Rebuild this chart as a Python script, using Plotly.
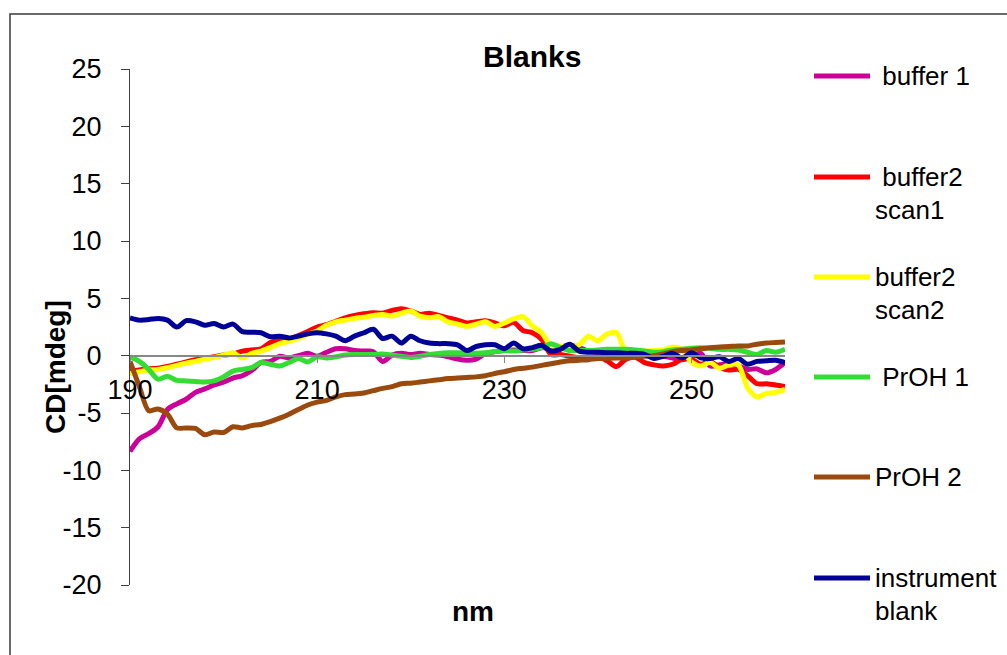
import plotly.graph_objects as go

# Wavelength grid (nm), 1 nm steps
wavelength = list(range(190, 261))

buffer_1 = [
    -8.35, -7.25, -6.8, -6.2, -4.7, -4.2, -3.8, -3.2, -2.9, -2.55,
    -2.3, -1.95, -1.75, -1.3, -0.6, -0.5, -0.05, -0.2, 0.0, 0.2,
    -0.05, 0.3, 0.6, 0.6, 0.45, 0.4, 0.35, -0.5, 0.05, 0.2,
    0.1, 0.2, 0.1, 0.05, -0.1, -0.3, -0.4, -0.3, 0.2, 0.35,
    0.45, 0.5, 0.45, 0.45, 0.7, 0.6, 0.75, 0.9, 0.7, 0.4,
    0.35, 0.4, 0.3, 0.15, 0.1, 0.15, 0.1, -0.05, -0.2, -0.35,
    -0.1, 0.2, -0.9, -0.8, -0.7, -0.9, -1.2, -1.15, -1.5, -1.2,
    -0.6,
]

buffer2_scan1 = [
    -1.4, -1.25, -1.15, -1.1, -0.95, -0.75, -0.55, -0.35, -0.25, -0.1,
    0.05, 0.15, 0.4, 0.5, 0.6, 1.15, 1.4, 1.45, 1.75, 2.1,
    2.5, 2.7, 3.0, 3.3, 3.5, 3.65, 3.75, 3.7, 3.95, 4.1,
    3.9, 3.6, 3.7, 3.5, 3.3, 3.1, 2.85, 2.95, 3.05, 2.85,
    2.6, 2.9, 2.2, 2.0, 1.4, 0.1, 0.1, -0.05, -0.2, -0.2,
    -0.1, -0.45, -0.95, -0.3, -0.15, -0.6, -0.8, -0.9, -0.75, -0.3,
    -0.3, -0.75, -0.5, -1.0, -1.25, -1.2, -1.75, -2.45, -2.45, -2.55,
    -2.7,
]

buffer2_scan2 = [
    -1.55, -1.4, -1.25, -1.2, -1.05, -0.85, -0.65, -0.5, -0.3, -0.15,
    0.05, 0.25, -0.2, 0.2, 0.4, 0.7, 1.05, 1.25, 1.5, 1.85,
    2.15, 2.65, 2.95, 3.1, 3.25, 3.35, 3.5, 3.6, 3.45, 3.7,
    3.9, 3.45, 3.3, 3.4, 2.95, 2.75, 2.55, 2.75, 2.95, 2.55,
    2.85, 3.2, 3.4, 2.6, 2.0, 0.85, 0.85, 0.75, 0.95, 1.7,
    1.3, 1.9, 2.0, 0.3, 0.35, 0.4, 0.45, 0.5, 0.75, 0.5,
    -0.55, -0.9, -0.6, -1.1, -0.8, -0.8, -2.8, -3.6, -3.3, -3.2,
    -2.95,
]

proh_1 = [
    -0.1, -0.5, -1.2, -2.05, -1.8, -2.15, -2.2, -2.25, -2.3, -2.2,
    -1.85, -1.35, -1.2, -1.05, -0.6, -0.75, -0.9, -0.6, -0.25, -0.55,
    -0.1, -0.2, -0.1, 0.05, 0.1, 0.1, 0.1, 0.15, 0.05, -0.05,
    -0.15, -0.05, 0.1, 0.2, 0.25, 0.25, 0.2, 0.2, 0.25, 0.35,
    0.45, 0.4, 0.5, 0.55, 0.7, 1.05, 0.7, 0.45, 0.45, 0.45,
    0.5, 0.55, 0.55, 0.55, 0.5, 0.4, 0.3, 0.35, 0.5, 0.55,
    0.65, 0.7, 0.65, 0.55, 0.55, 0.5, 0.3, 0.1, 0.45, 0.3,
    0.55,
]

proh_2 = [
    -0.5, -2.7, -4.8, -4.65, -5.1, -6.3, -6.3, -6.35, -6.9, -6.65,
    -6.7, -6.2, -6.3, -6.1, -6.0, -5.75, -5.45, -5.1, -4.7, -4.3,
    -4.05, -3.9, -3.6, -3.4, -3.35, -3.25, -3.05, -2.85, -2.7, -2.45,
    -2.4, -2.3, -2.2, -2.1, -2.0, -1.95, -1.9, -1.85, -1.75, -1.55,
    -1.4, -1.2, -1.1, -1.0, -0.85, -0.7, -0.55, -0.45, -0.4, -0.35,
    -0.25, -0.22, -0.2, -0.2, -0.1, -0.05, 0.0, 0.15, 0.35, 0.45,
    0.5, 0.6, 0.7, 0.75, 0.8, 0.85, 0.85, 1.0, 1.1, 1.15,
    1.2,
]

instrument_blank = [
    3.3, 3.1, 3.15, 3.25, 3.1, 2.5, 3.05, 2.95, 2.65, 2.8,
    2.5, 2.75, 2.1, 2.05, 2.0, 1.65, 1.7, 1.55, 1.7, 1.9,
    2.0, 1.9, 1.7, 1.3, 1.7, 2.0, 2.3, 1.5, 1.7, 1.1,
    1.7, 1.3, 1.1, 1.05, 1.05, 0.95, 0.45, 0.8, 0.95, 0.95,
    0.6, 1.1, 0.6, 0.7, 0.9, 0.4, 0.55, 1.0, 0.4, 0.3,
    0.3, 0.25, 0.25, 0.2, 0.2, 0.1, -0.25, -0.05, 0.2, -0.2,
    0.25, -0.2, -0.25, -0.1, -0.5, -0.25, -0.75, -0.5, -0.45, -0.4,
    -0.6,
]

series = [
    (["\u00a0buffer 1"], buffer_1, "#CC0099"),
    (["\u00a0buffer2", "scan1"], buffer2_scan1, "#FF0000"),
    (["buffer2", "scan2"], buffer2_scan2, "#FFFF00"),
    (["\u00a0PrOH 1"], proh_1, "#33DD33"),
    (["PrOH 2"], proh_2, "#9A4A0C"),
    (["instrument", "blank"], instrument_blank, "#000099"),
]

y_ticks = list(range(-20, 30, 5))
x_ticks = [190, 210, 230, 250]

W, H = 1007, 655
FONT = "Liberation Sans, Arial, sans-serif"


def px(x):
    return x / W


def py(y):
    return 1 - y / H


fig = go.Figure()
for labels, values, color in series:
    fig.add_trace(go.Scatter(
        x=wavelength, y=values, mode="lines",
        name=" ".join(l.strip("\u00a0") for l in labels),
        line=dict(color=color, width=5, shape="spline", smoothing=0.8),
        showlegend=False,
    ))

# Legend drawn at the right, one swatch + text block per series
legend_rows = [76, 177, 277, 377, 477, 578]
annotations = []
shapes = []
for (labels, values, color), yrow in zip(series, legend_rows):
    shapes.append(dict(type="line", xref="paper", yref="paper",
                       x0=px(814), x1=px(870), y0=py(yrow), y1=py(yrow),
                       line=dict(color=color, width=5)))
    for i, text in enumerate(labels):
        annotations.append(dict(
            text=text, x=px(873), y=py(yrow + 33 * i),
            xref="paper", yref="paper", xanchor="left", yanchor="middle",
            showarrow=False, font=dict(family=FONT, size=26, color="black")))

# Chart title and axis titles
annotations.append(dict(text="<b>Blanks</b>", x=px(532), y=py(57),
                        xref="paper", yref="paper", showarrow=False,
                        xanchor="center", yanchor="middle",
                        font=dict(family=FONT, size=30, color="black")))
annotations.append(dict(text="<b>CD[mdeg]</b>", x=px(56), y=py(367),
                        xref="paper", yref="paper", showarrow=False, textangle=-90,
                        xanchor="center", yanchor="middle",
                        font=dict(family=FONT, size=28, color="black")))
annotations.append(dict(text="<b>nm</b>", x=px(473), y=py(611),
                        xref="paper", yref="paper", showarrow=False,
                        xanchor="center", yanchor="middle",
                        font=dict(family=FONT, size=28, color="black")))

# Outer chart border
shapes.append(dict(type="rect", xref="paper", yref="paper",
                   x0=px(10), x1=px(1012), y0=py(14), y1=py(662),
                   line=dict(color="#3a3a3a", width=1.5)))

y_lo, y_hi = -20, 25
zero_pos = py(69) - (0 - y_hi) / (y_lo - y_hi) * (py(69) - py(585))

fig.update_layout(
    width=W, height=H,
    margin=dict(l=0, r=0, t=0, b=0, autoexpand=False),
    paper_bgcolor="white", plot_bgcolor="white",
    annotations=annotations, shapes=shapes,
    xaxis=dict(
        domain=[px(130), px(785)], range=[190, 260],
        anchor="free", position=zero_pos, automargin=False,
        tickvals=x_ticks, ticktext=[str(v) for v in x_ticks],
        showline=True, linecolor="#888888", linewidth=2,
        ticks="outside", ticklen=6, tickcolor="#888888", tickwidth=1,
        showgrid=False, zeroline=False,
        tickfont=dict(family=FONT, size=27, color="black"),
        ticklabelstandoff=4,
    ),
    yaxis=dict(
        domain=[py(585), py(69)], range=[y_lo, y_hi], automargin=False,
        tickvals=y_ticks, ticktext=[str(v) for v in y_ticks],
        showline=True, linecolor="#404040", linewidth=1,
        ticks="outside", ticklen=8, tickcolor="#404040", tickwidth=1,
        showgrid=False, zeroline=False,
        tickfont=dict(family=FONT, size=27, color="black"),
        ticklabelstandoff=14,
    ),
)

fig.write_html("out.html")
